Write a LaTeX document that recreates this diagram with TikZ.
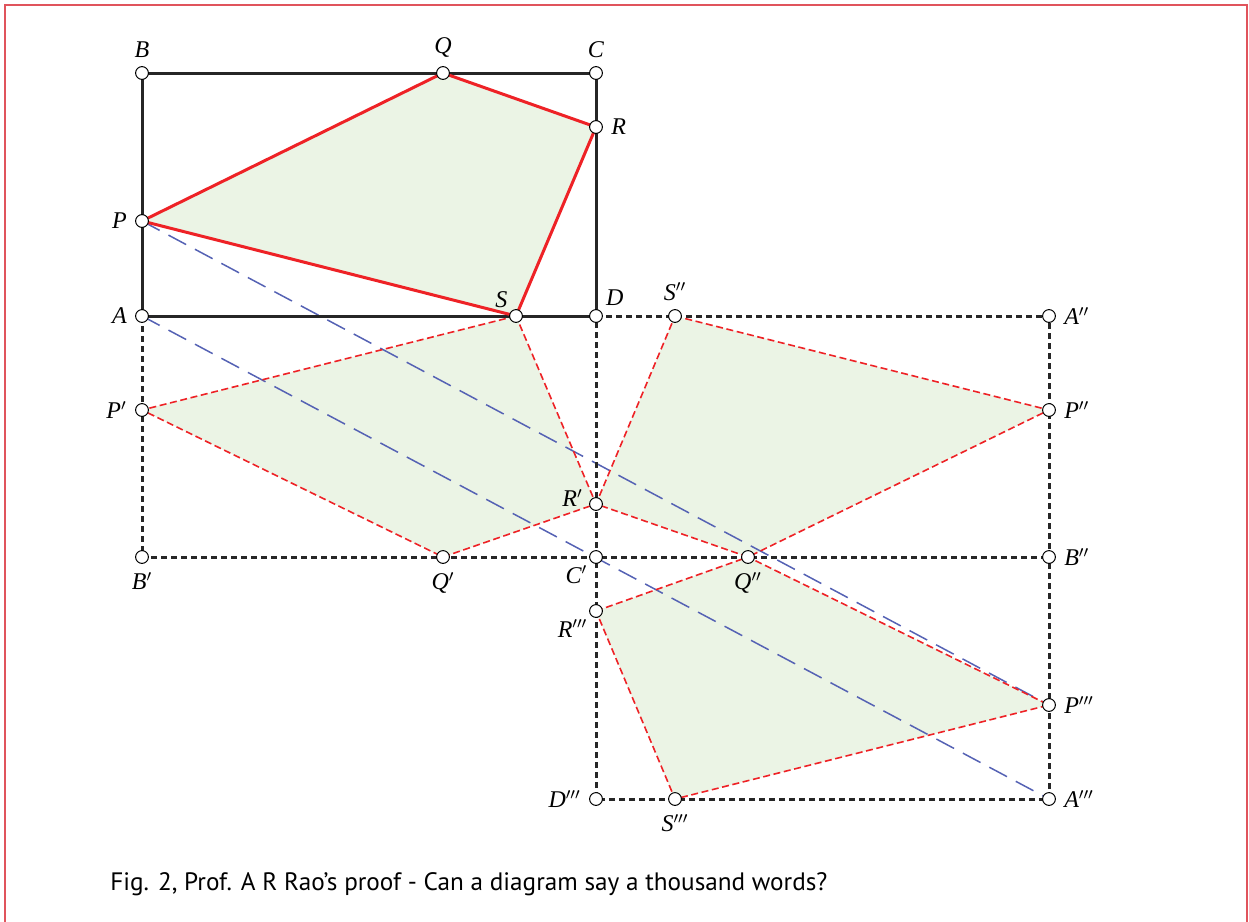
\documentclass[tikz,border=0pt]{standalone}
\usepackage{fontspec}
\setmainfont{Liberation Serif}
\newfontfamily\capfont{PT Sans}
\usetikzlibrary{positioning,backgrounds}
\definecolor{quadred}{HTML}{EE2226}
\definecolor{quadfill}{HTML}{EBF4E5}
\definecolor{diagblue}{HTML}{5562B4}
\definecolor{framered}{HTML}{E0545C}
\tikzset{
  % punkter
  pt/.style={circle,draw=black,fill=white,line width=0.5pt,inner sep=0pt,
             minimum size=6.4pt},
  every label/.style={font=\fontsize{12}{14}\selectfont\itshape,inner sep=1pt},
  label distance=3pt,
  % linjer
  rect/.style={draw=black!85,line width=1.5pt},
  quad/.style={draw=quadred,line width=1.5pt,line join=round},
  refl/.style={draw=quadred,line width=0.8pt,dash pattern=on 3.5pt off 1.8pt},
  grid/.style={draw=black!85,line width=1.5pt,dash pattern=on 3pt off 2pt},
  diag/.style={draw=diagblue,line width=0.75pt,dash pattern=on 10pt off 5pt},
}
\begin{document}
\begin{tikzpicture}[x=0.5pt,y=-0.5pt]
\useasboundingbox (0,0) rectangle (1249,922);
  \draw[framered,line width=1pt] (4.5,922) -- (4.5,5) -- (1246.5,5) -- (1246.5,922);
  % rektangel ABCD
  \node[pt,label=above:B] (B) at (142,73) {};
  \node[pt,label=above:C] (C) at (596,73) {};
  \node[pt,label=left:A] (A) at (142,316) {};
  \node[pt,label={[label distance=2pt]above right:D}] (D) at (596,316) {};
  \node[pt,label=above:Q] (Q) at (443,73) {};
  \node[pt,label=right:R] (R) at (596,127) {};
  \node[pt,label=left:P] (P) at (142,221) {};
  \node[pt,label={[label distance=1pt]above left:S}] (S) at (516,316) {};
  % spegling 1
  \node[pt,label=left:P$'$] (P1) at (142,410) {};
  \node[pt,label=below:B$'$] (B1) at (142,557) {};
  \node[pt,label=below:Q$'$] (Q1) at (443,557) {};
  \node[pt,label={[label distance=1pt]below left:C$'$}] (C1) at (596,557) {};
  \node[pt,label={[label distance=2pt,yshift=3pt]left:R$'$}] (R1) at (596,504) {};
  % spegling 2
  \node[pt,label=above:S$''$] (S2) at (675,316) {};
  \node[pt,label=right:A$''$] (A2) at (1049,316) {};
  \node[pt,label=right:P$''$] (P2) at (1049,410) {};
  \node[pt,label=right:B$''$] (B2) at (1049,557) {};
  \node[pt,label=below:Q$''$] (Q2) at (748,557) {};
  % spegling 3
  \node[pt,label={[label distance=1pt]below left:R$'''$}] (R3) at (596,611) {};
  \node[pt,label=right:P$'''$] (P3) at (1049,705) {};
  \node[pt,label=left:D$'''$] (D3) at (596,799) {};
  \node[pt,label=right:A$'''$] (A3) at (1049,799) {};
  \node[pt,label=below:S$'''$] (S3) at (675,799) {};
  \begin{scope}[on background layer]
    \fill[quadfill] (P.center) -- (Q.center) -- (R.center) -- (S.center) -- cycle;
    \fill[quadfill] (P1.center) -- (Q1.center) -- (R1.center) -- (S.center) -- cycle;
    \fill[quadfill] (S2.center) -- (P2.center) -- (Q2.center) -- (R1.center) -- cycle;
    \fill[quadfill] (R3.center) -- (Q2.center) -- (P3.center) -- (S3.center) -- cycle;
    \draw[diag] (P.center) -- (P3.center);
    \draw[diag] (A.center) -- (A3.center);
    \draw[refl] (S.center) -- (P1.center) -- (Q1.center) -- (R1.center) -- cycle;
    \draw[refl] (S2.center) -- (P2.center) -- (Q2.center) -- (R1.center) -- cycle;
    \draw[refl] (R3.center) -- (Q2.center) -- (P3.center) -- (S3.center) -- cycle;
    \draw[grid] (A.center) -- (B1.center) -- (B2.center);
    \draw[grid] (D.center) -- (A2.center) -- (A3.center) -- (D3.center) -- (D.center);
    \draw[rect] (A.center) -- (B.center) -- (C.center) -- (D.center) -- cycle;
    \draw[quad] (P.center) -- (Q.center) -- (R.center) -- (S.center) -- cycle;
  \end{scope}
  \node[anchor=base west,inner sep=0pt,font=\capfont\fontsize{12.6}{15}\selectfont]
    (cap) at (110,890) {Fig. 2, Prof. A R Rao’s proof - Can a diagram say a thousand words?};
\end{tikzpicture}
\end{document}
